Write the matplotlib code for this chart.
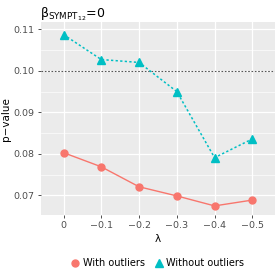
import matplotlib.pyplot as plt
from matplotlib.lines import Line2D

plt.rcParams['font.family'] = ['DejaVu Sans']
plt.rcParams['mathtext.fontset'] = 'dejavusans'

# data
lambdas = ['0', '\u22120.1', '\u22120.2', '\u22120.3', '\u22120.4', '\u22120.5']
with_outliers = [0.0803, 0.0769, 0.0721, 0.0699, 0.0675, 0.0689]
without_outliers = [0.1087, 0.1027, 0.1020, 0.0950, 0.0791, 0.0836]
y_ticks = [0.07, 0.08, 0.09, 0.10, 0.11]
threshold = 0.10

red = '#F8766D'
teal = '#00BFC4'

fig = plt.figure(figsize=(2.8, 2.8), dpi=100)
ax = fig.add_axes([0.146, 0.232, 0.836, 0.689])
ax.set_facecolor('#EBEBEB')

xs = list(range(len(lambdas)))
ax.axhline(threshold, color='#555555', lw=0.8, ls=(0, (1.5, 1.5)), zorder=2)
ax.plot(xs, with_outliers, color=red, lw=1.0, marker='o', ms=5, zorder=3)
ax.plot(xs, without_outliers, color=teal, lw=1.1, ls=(0, (1.5, 1.5)),
        marker='^', ms=5.5, zorder=3)

ax.set_xlim(-0.6, 5.6)
ax.set_ylim(0.0653, 0.1117)
ax.set_xticks(xs)
ax.set_xticklabels(lambdas)
ax.set_yticks(y_ticks)
ax.set_yticklabels(['%.2f' % v for v in y_ticks])
ax.set_yticks([0.075, 0.085, 0.095, 0.105], minor=True)

ax.grid(True, which='major', color='white', lw=0.9)
ax.grid(True, which='minor', axis='y', color='white', lw=0.45)
ax.set_axisbelow(True)
for s in ax.spines.values():
    s.set_visible(False)
ax.tick_params(which='major', length=2.5, width=0.6, color='#333333',
               labelsize=6.8, labelcolor='#4D4D4D', pad=2)
ax.tick_params(which='minor', length=0)

ax.set_xlabel('\u03bb', fontsize=7.5, labelpad=3)
ax.set_ylabel('p\u2212value', fontsize=7.5)
ax.yaxis.set_label_coords(-0.128, 0.5)
fig.text(0.142, 0.95, '\u03b2$_{\\mathrm{SYMPT}_{12}}$=0', fontsize=9, va='center')

handles = [
    Line2D([], [], color=red, marker='o', ls='none', ms=5),
    Line2D([], [], color=teal, marker='^', ls='none', ms=5.5),
]
fig.legend(handles, ['With outliers', 'Without outliers'], loc='center',
           bbox_to_anchor=(0.56, 0.06), ncol=2, frameon=False, fontsize=7,
           handletextpad=0.2, columnspacing=0.8, handlelength=1.2)

fig.savefig('out.png', dpi=100)
